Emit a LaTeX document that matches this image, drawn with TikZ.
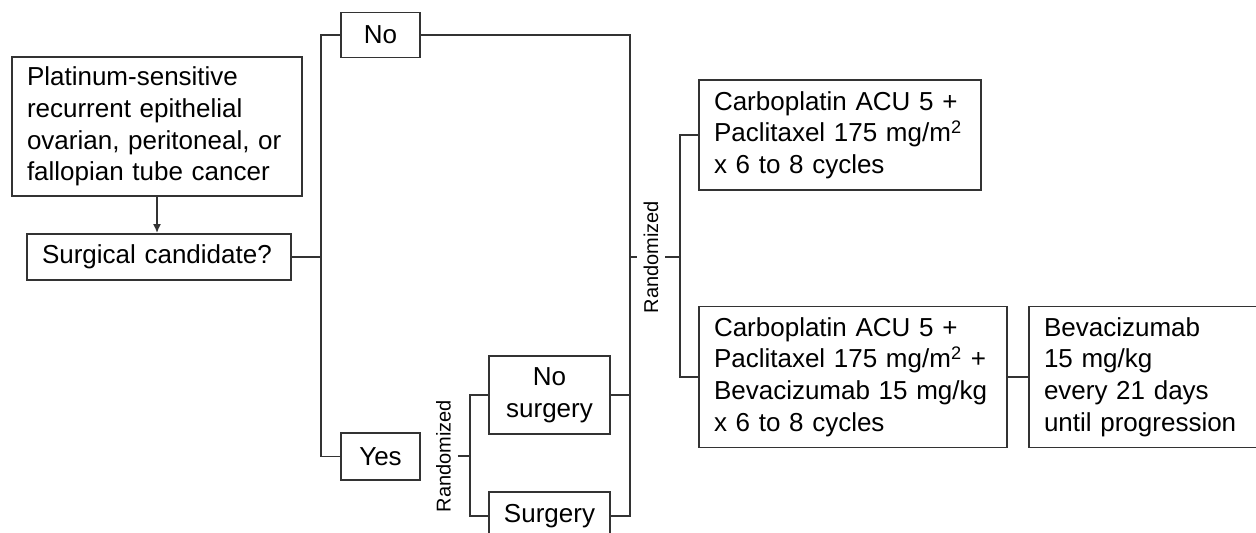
\documentclass[tikz,border=0pt]{standalone}
\usepackage{fontspec}
\setmainfont{Liberation Sans}
\usetikzlibrary{arrows.meta}

\begin{document}
\begin{tikzpicture}[x=0.5pt,y=-0.5pt,
		line width=0.9pt,
		b1/.style={draw=black!80,inner xsep=7.5pt,inner ysep=0pt,align=left,font=\fontsize{13}{15.8}\selectfont},
		b2/.style={draw=black!80,inner sep=0pt,align=center,font=\fontsize{13}{15.8}\selectfont},
		r1/.style={rotate=90,inner sep=3pt,font=\fontsize{10}{12}\selectfont},
		ln/.style={black!80},
		>={Latex[length=4.5pt,width=4pt]}]
	\useasboundingbox (0,0) rectangle (1256,532);
	\clip (0,0) rectangle (1256,532);
	%% define boxes
	\node (pt) at (157,126.5) [b1, text width=130pt, minimum height=69.5pt] {Platinum-sensitive\\recurrent epithelial\\ovarian, peritoneal, or\\fallopian tube cancer};
	\node (sc) at (159,257) [b1, text width=117pt, minimum height=23pt] {Surgical candidate?};
	\node (no) at (380.5,35) [b2, minimum width=39.5pt, minimum height=22.5pt] {No};
	\node (yes) at (380.5,456.5) [b2, minimum width=39.5pt, minimum height=23.5pt] {Yes};
	\node (ns) at (549.5,395) [b2, minimum width=60.5pt, minimum height=39pt] {No\\surgery};
	\node (su) at (549.5,516) [b2, minimum width=60.5pt, minimum height=24pt] {Surgery};
	\node (cp) at (840,135) [b1, text width=126pt, minimum height=55pt] {Carboplatin ACU 5 +\\Paclitaxel 175 mg/m\textsuperscript{2}\\x 6 to 8 cycles};
	\node (cpb) at (853,377) [b1, text width=139pt, minimum height=70.5pt] {Carboplatin ACU 5 +\\Paclitaxel 175 mg/m\textsuperscript{2} +\\Bevacizumab 15 mg/kg\\x 6 to 8 cycles};
	\node (bev) at (1145.5,377) [b1, text width=101.5pt, minimum height=70.5pt] {Bevacizumab\\15 mg/kg\\every 21 days\\until progression};
	%% define labels and joints
	\node (ra) at (443.5,456) [r1] {Randomized};
	\node (rb) at (651,257) [r1] {Randomized};
	\coordinate (j1) at (321,257);
	\coordinate (j2) at (470,456);
	\coordinate (j3) at (630,257);
	\coordinate (j4) at (680,257);
	%% define lines
	\draw[->,ln] (pt.south) -- (pt.south |- sc.north);
	\draw[ln] (sc.east) -- (j1);
	\draw[ln] (no.west) -| (j1) |- (yes.west);
	\draw[ln] (ra.south) -- (j2);
	\draw[ln] (ns.west) -| (j2) |- (su.west);
	\draw[ln] (no.east) -| (j3) |- (su.east);
	\draw[ln] (ns.east) -- (ns.east -| j3);
	\draw[ln] (j3) -- (rb.north);
	\draw[ln] (rb.south) -- (j4);
	\draw[ln] (cp.west) -| (j4) |- (cpb.west);
	\draw[ln] (cpb.east) -- (bev.west);
\end{tikzpicture}
\end{document}
